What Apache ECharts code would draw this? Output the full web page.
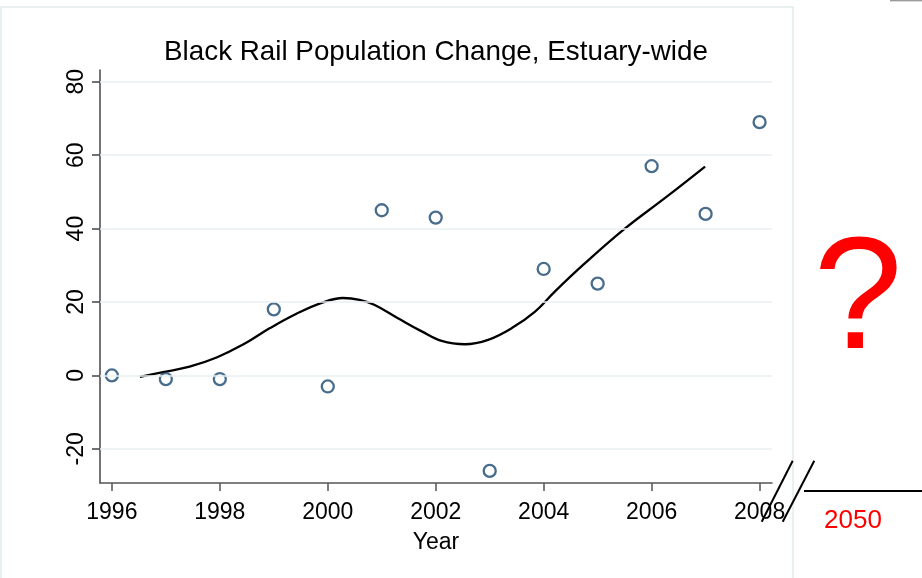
<!DOCTYPE html>
<html>
<head>
<meta charset="utf-8">
<script src="https://cdn.jsdelivr.net/npm/echarts@6/dist/echarts.min.js"></script>
<style>
  html, body { margin: 0; padding: 0; background: #ffffff; }
  #chart { width: 922px; height: 578px; }
</style>
</head>
<body>
<div id="chart"></div>
<script>
// Annual population change of Black Rail, estuary-wide
const years = [1996, 1997, 1998, 1999, 2000, 2001, 2002, 2003, 2004, 2005, 2006, 2007, 2008];
const change = [0, -1, -1, 18, -3, 45, 43, -26, 29, 25, 57, 44, 69];

// Smoothed trend through the annual values
const fitYears = [1996.52, 1996.95, 1997.44, 1997.94, 1998.43, 1998.93, 1999.42, 1999.91, 2000.28,
  2000.59, 2000.87, 2001.30, 2001.74, 2002.11, 2002.54, 2002.97, 2003.41, 2003.84, 2004.21,
  2004.73, 2005.47, 2006.28, 2006.99];
const fitValues = [-0.4, 0.9, 2.4, 4.9, 8.4, 12.9, 16.8, 19.9, 21.1,
  20.6, 19.2, 15.6, 12.0, 9.4, 8.5, 9.7, 12.9, 17.4, 22.9,
  30.1, 39.6, 48.7, 56.9];

// Axis ticks
const xTicks = [1996, 1998, 2000, 2002, 2004, 2006, 2008];
const yTicks = [-20, 0, 20, 40, 60, 80];

const FONT = "'Liberation Sans', Arial, Helvetica, sans-serif";
const NAVY = '#1a476f';

const chart = echarts.init(document.getElementById('chart'), null, { renderer: 'canvas' });

chart.setOption({
  backgroundColor: '#ffffff',
  animation: false,
  title: {
    text: 'Black Rail Population Change, Estuary-wide',
    left: 431,
    textAlign: 'center',
    top: 33,
    textStyle: { fontFamily: FONT, fontSize: 27.8, fontWeight: 'normal', color: '#000' }
  },
  grid: { left: 100, right: 150, top: 70, bottom: 95, containLabel: false },
  xAxis: {
    type: 'value',
    min: 1995.78,
    max: 2008.23,
    name: 'Year',
    nameLocation: 'middle',
    nameGap: 48,
    nameTextStyle: { fontFamily: FONT, fontSize: 23, color: '#000' },
    axisLine: { show: true, onZero: false, lineStyle: { color: '#555', width: 1.5 } },
    axisTick: { show: true, length: 8, customValues: xTicks, lineStyle: { color: '#555', width: 1.5 } },
    axisLabel: {
      customValues: xTicks,
      margin: 18,
      fontFamily: FONT, fontSize: 23, color: '#000',
      formatter: v => String(v)
    },
    splitLine: { show: false }
  },
  yAxis: {
    type: 'value',
    min: -29.3,
    max: 83.2,
    axisLine: { show: true, onZero: false, lineStyle: { color: '#444', width: 1.5 } },
    axisTick: { show: true, length: 8, customValues: yTicks, lineStyle: { color: '#444', width: 1.5 } },
    axisLabel: {
      customValues: yTicks,
      rotate: 90,
      margin: 12,
      fontFamily: FONT, fontSize: 23, color: '#000',
      formatter: v => String(v)
    },
    splitLine: { show: false }
  },
  series: [
    {
      // horizontal reference lines at each labelled value
      type: 'line',
      data: [],
      z: 0,
      silent: true,
      markLine: {
        silent: true,
        symbol: ['none', 'none'],
        label: { show: false },
        lineStyle: { color: '#e8eff2', width: 1.6, type: 'solid' },
        data: yTicks.map(v => ({ yAxis: v }))
      }
    },
    {
      type: 'line',
      data: fitYears.map((y, i) => [y, fitValues[i]]),
      smooth: 0.4,
      showSymbol: false,
      lineStyle: { color: '#000', width: 2.3 },
      z: 2
    },
    {
      type: 'scatter',
      data: years.map((y, i) => [y, change[i]]),
      symbol: 'circle',
      symbolSize: 12,
      itemStyle: { color: 'rgba(255,255,255,0)', borderColor: NAVY, borderWidth: 2.3 },
      z: 3
    }
  ],
  graphic: [
    {
      type: 'rect', silent: true, z: -1,
      shape: { x: 1, y: 7, width: 792, height: 580 },
      style: { fill: 'none', stroke: '#e2ecee', lineWidth: 1.5 }
    },
    {
      type: 'line', silent: true,
      shape: { x1: 890, y1: 0.6, x2: 922, y2: 0.6 },
      style: { stroke: '#9a9a9a', lineWidth: 1.5 }
    },
    {
      type: 'line', silent: true,
      shape: { x1: 761.7, y1: 521.7, x2: 792.7, y2: 460.7 },
      style: { stroke: '#000', lineWidth: 2 }
    },
    {
      type: 'line', silent: true,
      shape: { x1: 782.7, y1: 521.7, x2: 814.3, y2: 460.7 },
      style: { stroke: '#000', lineWidth: 2 }
    },
    {
      type: 'line', silent: true,
      shape: { x1: 804, y1: 491, x2: 922, y2: 491 },
      style: { stroke: '#000', lineWidth: 2 }
    },
    {
      type: 'text', silent: true,
      x: 853, y: 521,
      style: { text: '2050', fill: '#ff0000', font: '26px ' + FONT, align: 'center', verticalAlign: 'middle' }
    },
    {
      type: 'text', silent: true,
      x: 858, y: 304,
      style: { text: '?', fill: '#ff0000', font: '160px ' + FONT, align: 'center', verticalAlign: 'middle' }
    }
  ]
});
</script>
</body>
</html>
